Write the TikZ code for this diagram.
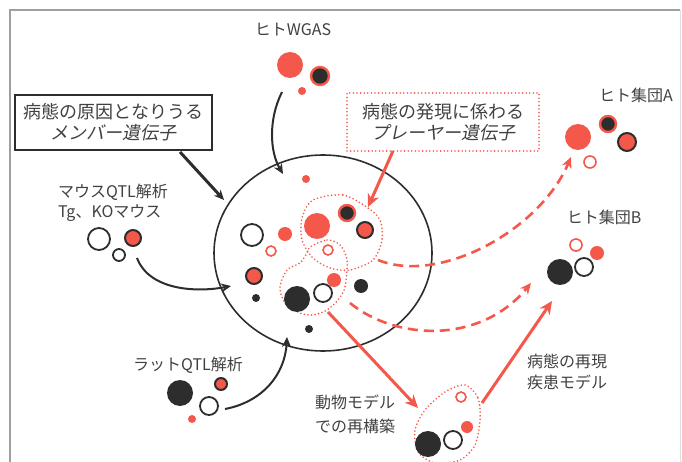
\documentclass[tikz,border=0pt]{standalone}
\usepackage{fontspec}
\setmainfont{Noto Sans CJK JP}
\newfontfamily\jpi[FakeSlant=0.2]{Noto Sans CJK JP}
\usetikzlibrary{arrows.meta,shapes.geometric}
\definecolor{rd}{RGB}{244,88,74}
\definecolor{dk}{RGB}{45,45,45}
\definecolor{tx}{RGB}{65,65,65}
\begin{document}
\begin{tikzpicture}[x=1pt,y=-1pt,
  dotb/.style={circle,inner sep=0pt,minimum size=#1},
  rf/.style={dotb=#1,fill=rd},
  bf/.style={dotb=#1,fill=dk},
  rb/.style={dotb=#1,fill=rd,draw=dk,line width=2pt},
  br/.style={dotb=#1,fill=dk,draw=rd,line width=2.4pt},
  ob/.style={dotb=#1,fill=white,draw=dk,line width=1.8pt},
  orr/.style={dotb=#1,fill=white,draw=rd,line width=1.6pt},
  lbl/.style={text=tx,font=\fontsize{16}{21}\selectfont,align=center,inner sep=0pt},
  dotline/.style={draw=rd,line width=1.8pt,line cap=round,dash pattern=on 0pt off 3.6pt},
  barr/.style={draw=dk,line width=2pt,-{Stealth[length=10pt,width=9pt]}},
  rarr/.style={draw=rd,line width=3pt,-{Stealth[length=13pt,width=12pt]}},
  darr/.style={draw=rd,line width=2.6pt,dash pattern=on 10pt off 6pt,-{Stealth[length=11pt,width=10pt]}}]
\useasboundingbox (0,0) rectangle (682,462);
% frame
\draw[gray!75,line width=1.8pt] (10,462) -- (10,10) -- (680,10);
\draw[gray!25,line width=1pt] (680,10) -- (680,462);

% pool circle
\node[ellipse,draw=dk,line width=1.6pt,minimum width=218,minimum height=196] (pool) at (323,253) {};

% dotted regions
\draw[dotline] plot[smooth cycle] coordinates {(313,200)(343,195)(368,208)(380,220)(382,240)(373,260)(350,270)(330,268)(313,258)(302,240)(302,218)};
\draw[dotline] plot[smooth cycle] coordinates {(310,247)(327,240)(340,245)(347,260)(345,287)(338,300)(327,310)(313,315)(300,313)(285,303)(280,287)(287,270)(300,263)(307,253)};
\draw[dotline] plot[smooth cycle] coordinates {(465,385)(478,398)(480,420)(475,445)(460,460)(435,463)(418,452)(415,430)(425,410)(445,392)};

% boxes
\node[draw=dk,line width=2pt,minimum width=197,minimum height=55,align=center,text=tx,inner sep=0pt,font=\fontsize{18}{21}\selectfont] (member) at (113.5,122.5) {病態の原因となりうる\\{\jpi メンバー遺伝子}};
\node[dotline,minimum width=192,minimum height=58,align=center,text=tx,inner sep=0pt,font=\fontsize{18}{21}\selectfont] (player) at (443,122) {病態の発現に係わる\\{\jpi プレーヤー遺伝子}};

% labels
\node[lbl] (wgas) at (293,30) {ヒトWGAS};
\node[lbl] (popA) at (636,95) {ヒト集団A};
\node[lbl] (popB) at (604,217) {ヒト集団B};
\node[lbl] (rat) at (188,365) {ラットQTL解析};
\node[lbl,anchor=west,align=left,font=\fontsize{16}{20}\selectfont] (mouse) at (58,203) {マウスQTL解析\\Tg、KOマウス};
\node[lbl,font=\fontsize{16}{24}\selectfont] (animal) at (355,414) {動物モデル\\での再構築};
\node[lbl] (repro) at (567,372) {病態の再現\\疾患モデル};

% connector end points
\coordinate (m1) at (180,152);
\coordinate (m2) at (224,200);
\coordinate (w1) at (282,92);
\coordinate (w2) at (283,174);
\coordinate (q1) at (137,258);
\coordinate (q2) at (231,286);
\coordinate (t1) at (225,409);
\coordinate (t2) at (287,337);
\coordinate (p1) at (393,151);
\coordinate (p2) at (368,207);
\coordinate (a1) at (378,260);
\coordinate (a2) at (571,157);
\coordinate (b1) at (350,303);
\coordinate (b2) at (531,283);
\coordinate (s1) at (328,312);
\coordinate (s2) at (418,408);
\coordinate (u1) at (482,403);
\coordinate (u2) at (552,301);

% connectors
\draw[barr,line width=3pt] (m1) -- (m2);
\draw[barr] (w1) .. controls (268,120) and (270,152) .. (w2);
\draw[barr] (q1) .. controls (150,292) and (200,292) .. (q2);
\draw[barr] (t1) .. controls (262,402) and (285,375) .. (t2);
\draw[rarr] (p1) -- (p2);
\draw[darr] (a1) .. controls (440,285) and (540,230) .. (a2);
\draw[darr] (b1) .. controls (395,340) and (480,345) .. (b2);
\draw[rarr] (s1) -- (s2);
\draw[rarr] (u1) -- (u2);

% dots in pool
\node[rf=8] (c1) at (306,179) {};
\node[rf=26] (c2) at (317,226) {};
\node[br=16] (c3) at (347,213) {};
\node[rb=16] (c4) at (365,230) {};
\node[ob=22] (c5) at (252,235) {};
\node[rf=14] (c6) at (285,234) {};
\node[orr=10] (c7) at (271,251) {};
\node[orr=10] (c8) at (328,250) {};
\node[rb=16] (c9) at (254,276) {};
\node[rf=14] (c10) at (334,280) {};
\node[bf=14] (c11) at (361,286) {};
\node[bf=8] (c12) at (256,298) {};
\node[bf=26] (c13) at (297,299) {};
\node[ob=18] (c14) at (323,293) {};
\node[bf=8] (c15) at (309,329) {};
% WGAS
\node[rf=26] (w3) at (290,65) {};
\node[br=18] (w4) at (320,76) {};
\node[rf=8] (w5) at (302,91) {};
% population A
\node[rf=26] (pa1) at (578,137) {};
\node[br=16] (pa2) at (608,124) {};
\node[rb=18] (pa3) at (627,142) {};
\node[orr=12] (pa4) at (590,162) {};
% population B
\node[orr=12] (pb1) at (576,245) {};
\node[rf=14] (pb2) at (597,253) {};
\node[bf=26] (pb3) at (560,272) {};
\node[ob=18] (pb4) at (584,267) {};
% animal model
\node[orr=10] (am1) at (461,397) {};
\node[rf=12] (am2) at (467,427) {};
\node[bf=26] (am3) at (428,444) {};
\node[ob=18] (am4) at (453,440) {};
% rat
\node[bf=26] (r1) at (180,393) {};
\node[rb=12] (r2) at (221,384) {};
\node[ob=18] (r3) at (209,406) {};
\node[rf=8] (r4) at (192,419) {};
% mouse
\node[ob=22] (mo1) at (99,239) {};
\node[rb=16] (mo2) at (133,238) {};
\node[ob=12] (mo3) at (119,255) {};
\end{tikzpicture}
\end{document}
